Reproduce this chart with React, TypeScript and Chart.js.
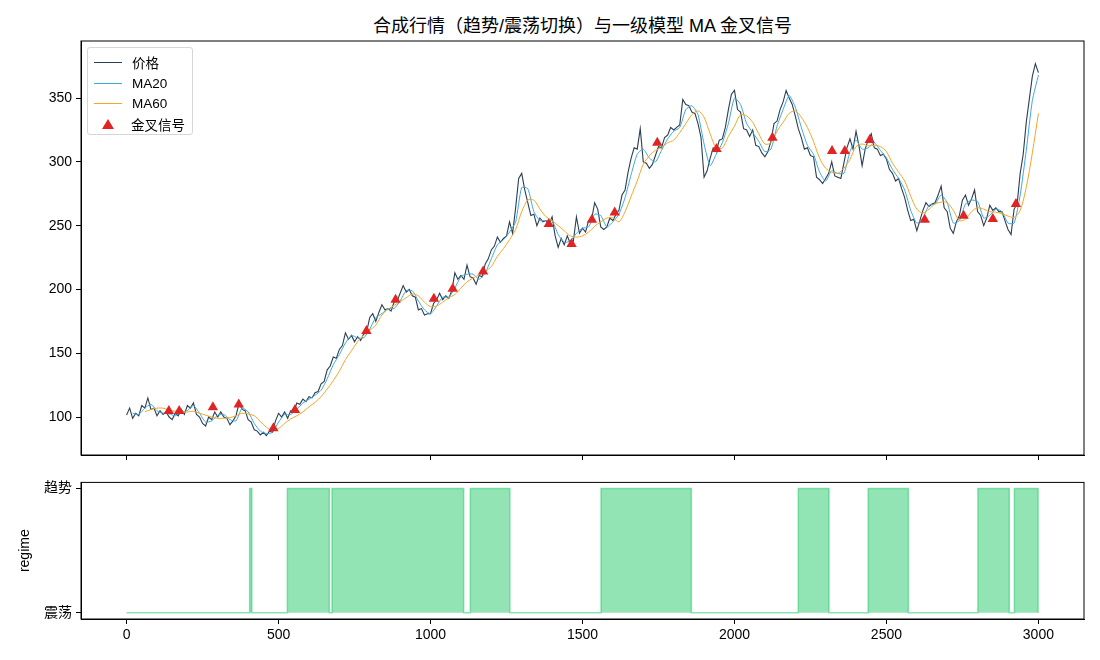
import { useEffect, useRef } from 'react'
import { Chart, registerables } from 'chart.js'

Chart.register(...registerables)

const FONT = "'Liberation Sans', 'Noto Sans CJK SC', sans-serif"

// price, one value every 10 steps (t = 0, 10, ..., 3000)
const PRICE = [
  101.5, 107, 99, 103, 101, 109, 107, 115, 106, 107,
  101, 105, 102, 104, 100, 98, 103, 101, 106, 102,
  109, 107, 111, 102, 100, 95, 93, 100, 98, 104,
  100, 104, 100, 99, 94, 97, 101, 111, 106, 105,
  98, 96, 90, 89, 86, 88, 85.5, 89, 88, 97,
  103, 100, 104, 99, 105, 104, 111, 110, 114, 112,
  116, 115, 119, 120, 126, 128, 137, 140, 147, 146,
  153, 156, 166, 161, 164, 159, 163, 160, 165, 167,
  178, 181, 175, 182, 188, 184, 185, 183, 190, 191,
  197, 203, 198, 200, 195, 194, 184, 185, 180, 181,
  181, 189, 192, 197, 192, 195, 193, 199, 213, 208,
  211, 208, 219, 210, 209, 204, 211, 210, 220, 224,
  231, 234, 241, 237, 240, 242, 253, 244, 264, 287,
  291, 278, 268, 258, 259, 250, 256, 253, 254, 251,
  257, 242, 233, 240, 235, 242, 236, 238, 257, 244,
  248, 245, 254, 255, 268, 263, 249, 247, 249, 256,
  254, 259, 262, 274, 278, 292, 303, 311, 310, 326,
  300, 299, 295, 298, 305, 312, 311, 319, 321, 327,
  325, 327, 329, 349, 345, 344, 339, 338, 330, 319,
  288, 293, 303, 311, 308, 317, 318, 327, 341, 353,
  356, 341, 339, 326, 325, 320, 325, 313, 312, 307,
  304, 308, 316, 330, 332, 341, 347, 356, 350, 345,
  336, 326, 319, 310, 311, 305, 304, 288, 286, 283,
  287, 291, 300, 289, 288, 287, 299, 311, 318, 310,
  324, 312, 297, 310, 317, 322, 311, 310, 305, 306,
  302, 294, 291, 285, 287, 279, 272, 262, 254, 255,
  246, 254, 262, 268, 265, 267, 268, 274, 281, 264,
  261, 248, 244, 253, 258, 270, 274, 266, 271, 278,
  261, 258, 250, 256, 266, 262, 264, 261, 261, 254,
  247, 243, 263, 267, 291, 306, 331, 349, 367, 377,
  370,
]

// MA20, every 20 steps starting at t = 20
const MA20 = [
  103, 102, 107, 110, 105, 103, 102.5, 101, 104, 105,
  109, 103, 96, 97, 101.5, 102, 98, 97, 107, 104,
  95, 89, 87, 88, 96, 102, 102, 106, 111, 114,
  117, 121, 130, 141, 149, 158, 164, 162, 162, 169,
  178, 181, 185, 185, 191, 199, 199, 191, 184, 181,
  187, 194, 194, 201, 210, 212, 212, 208, 213, 224,
  235, 239, 245, 253, 280, 279, 261, 254, 254, 254,
  243, 237, 238, 244, 248, 249, 259, 258, 249, 253,
  259, 272, 290, 306, 310, 303, 300, 309, 318, 324,
  327, 341, 344, 337, 314, 297, 306, 315, 330, 350,
  345, 330, 323, 316, 308, 310, 328, 341, 352, 343,
  327, 313, 306, 292, 285, 293, 291, 291, 308, 317,
  310, 311, 315, 309, 303, 294, 287, 278, 262, 252,
  256, 266, 267, 274, 268, 252, 254, 267, 270, 269,
  256, 258, 263, 261, 252, 252, 274, 309, 348, 368,
]

// MA60, every 20 steps starting at t = 60
const MA60 = [
  104, 106, 107, 107, 105.5, 104.5, 104, 104, 104.5, 103,
  101.5, 100, 99, 99, 99.5, 101, 103, 102.5, 101, 96.5,
  92, 89.5, 91, 95, 98.5, 101, 104, 108, 111.5, 116,
  122, 128.5, 136, 145, 152, 159, 164, 168, 172, 180,
  184.5, 187.5, 190.5, 193.5, 196.5, 195, 190, 186.5, 187, 190,
  193.5, 196, 201, 206, 209, 211.5, 214, 218, 226, 232,
  239, 247, 261, 270, 270, 263, 257, 254, 250, 246,
  242, 241, 242, 245, 249.5, 253, 256, 256, 253, 261,
  273, 285, 298, 305, 309, 311, 315, 317, 323, 330,
  337, 340, 335, 322, 311, 311, 320, 328, 337, 336,
  331, 322, 314, 315, 324, 331, 338, 340, 335, 327,
  316, 303, 295, 292, 291, 295, 302, 312, 314, 312.5,
  313, 312, 308, 299, 292, 285, 273, 263, 260, 263,
  267, 268.5, 268, 262, 254, 255, 261, 264, 263, 261,
  260.5, 259.5, 257.5, 256.5, 262, 280, 307, 338,
]

const SIGNAL_T = [139, 173, 284, 369, 483, 554, 789, 885, 1011, 1073, 1173, 1389, 1464, 1531, 1606, 1746, 1941, 2125, 2321, 2363, 2445, 2626, 2754, 2850, 2926]
const SIGNAL_V = [104.7, 104.7, 107.6, 109.9, 91.2, 105.5, 167.4, 192, 192.7, 200.5, 214, 251.3, 235.7, 254.7, 260.4, 315, 310, 319, 308.6, 308.6, 317.2, 254.7, 257.8, 255.2, 267]

// trend regime periods (regime = 1)
const REGIME_START = [405, 529, 676, 1131, 1561, 2210, 2440, 2801, 2921]
const REGIME_END = [412, 667, 1109, 1261, 1858, 2311, 2572, 2904, 2999]

const X_TICKS = [0, 500, 1000, 1500, 2000, 2500, 3000]
const Y_TICKS = [100, 150, 200, 250, 300, 350]

const C_PRICE = '#2c3e50'
const C_MA20 = '#3aa8e0'
const C_MA60 = '#f5a623'
const C_SIGNAL = '#e02424'

const frame = {
  id: 'frame',
  afterDraw(chart: any) {
    const { ctx, chartArea: a } = chart
    ctx.save()
    ctx.strokeStyle = '#000'
    ctx.lineWidth = 1
    ctx.strokeRect(a.left, a.top, a.right - a.left, a.bottom - a.top)
    ctx.restore()
  },
}

const axisGrid = { drawOnChartArea: false, tickLength: 5, color: '#000', lineWidth: 1 }
const tickFont = { family: FONT, size: 14 }

function PriceChart() {
  const ref = useRef<HTMLCanvasElement>(null)
  useEffect(() => {
    if (!ref.current) return
    const chart = new Chart(ref.current, {
      type: 'line',
      data: {
        datasets: [
          {
            type: 'scatter',
            label: '金叉信号',
            data: SIGNAL_T.map((t, i) => ({ x: t, y: SIGNAL_V[i] })),
            pointStyle: 'triangle',
            pointRadius: 6,
            backgroundColor: C_SIGNAL,
            borderColor: C_SIGNAL,
            borderWidth: 0,
          },
          {
            label: 'MA60',
            data: MA60.map((v, i) => ({ x: 60 + i * 20, y: v })),
            borderColor: C_MA60,
            borderWidth: 1,
            pointRadius: 0,
            tension: 0.3,
          },
          {
            label: 'MA20',
            data: MA20.map((v, i) => ({ x: 20 + i * 20, y: v })),
            borderColor: C_MA20,
            borderWidth: 1,
            pointRadius: 0,
            tension: 0.2,
          },
          {
            label: '价格',
            data: PRICE.map((v, i) => ({ x: i * 10, y: v })),
            borderColor: C_PRICE,
            borderWidth: 1.1,
            pointRadius: 0,
          },
        ],
      },
      options: {
        animation: false,
        responsive: true,
        maintainAspectRatio: false,
        layout: { padding: { left: 0, right: 16, top: 41, bottom: 0 } },
        plugins: { legend: { display: false }, tooltip: { enabled: false } },
        scales: {
          x: {
            type: 'linear',
            min: -150,
            max: 3150,
            afterBuildTicks: (s: any) => { s.ticks = X_TICKS.map(v => ({ value: v })) },
            afterFit: (s: any) => { s.height = 20 },
            grid: axisGrid,
            border: { color: '#000' },
            ticks: { display: false },
          },
          y: {
            type: 'linear',
            min: 70.25,
            max: 394.75,
            afterBuildTicks: (s: any) => { s.ticks = Y_TICKS.map(v => ({ value: v })) },
            afterFit: (s: any) => { s.width = 81 },
            grid: axisGrid,
            border: { color: '#000' },
            ticks: { color: '#000', font: tickFont, padding: 4 },
          },
        },
      },
      plugins: [frame],
    })
    return () => chart.destroy()
  }, [])
  return <canvas ref={ref} />
}

function RegimeChart() {
  const ref = useRef<HTMLCanvasElement>(null)
  useEffect(() => {
    if (!ref.current) return
    const pts: { x: number; y: number }[] = [{ x: 0, y: 0 }]
    REGIME_START.forEach((s, i) => {
      pts.push({ x: s, y: 0 }, { x: s, y: 1 }, { x: REGIME_END[i], y: 1 }, { x: REGIME_END[i], y: 0 })
    })
    pts.push({ x: 2999, y: 0 })
    const chart = new Chart(ref.current, {
      type: 'line',
      data: {
        datasets: [{
          label: 'regime',
          data: pts,
          borderColor: 'rgba(46,204,113,0.55)',
          backgroundColor: 'rgba(46,204,113,0.52)',
          borderWidth: 1.5,
          pointRadius: 0,
          fill: 'origin',
        }],
      },
      options: {
        animation: false,
        responsive: true,
        maintainAspectRatio: false,
        layout: { padding: { left: 0, right: 16, top: 9, bottom: 0 } },
        plugins: { legend: { display: false }, tooltip: { enabled: false } },
        scales: {
          x: {
            type: 'linear',
            min: -150,
            max: 3150,
            afterBuildTicks: (s: any) => { s.ticks = X_TICKS.map(v => ({ value: v })) },
            afterFit: (s: any) => { s.height = 41 },
            grid: axisGrid,
            border: { color: '#000' },
            ticks: { color: '#000', font: tickFont, padding: 3, maxRotation: 0, callback: (v: any) => String(v) },
          },
          y: {
            type: 'linear',
            min: -0.05,
            max: 1.05,
            afterBuildTicks: (s: any) => { s.ticks = [{ value: 0 }, { value: 1 }] },
            afterFit: (s: any) => { s.width = 81 },
            grid: axisGrid,
            border: { color: '#000' },
            ticks: {
              color: '#000',
              font: tickFont,
              padding: 4,
              callback: (v: any) => (v === 1 ? '趋势' : v === 0 ? '震荡' : ''),
            },
            title: { display: true, text: 'regime', color: '#000', font: tickFont, padding: { top: 17, bottom: 0 } },
          },
        },
      },
      plugins: [frame],
    })
    return () => chart.destroy()
  }, [])
  return <canvas ref={ref} />
}

const LEGEND = [
  { label: '价格', color: C_PRICE, kind: 'line' },
  { label: 'MA20', color: C_MA20, kind: 'line' },
  { label: 'MA60', color: C_MA60, kind: 'line' },
  { label: '金叉信号', color: C_SIGNAL, kind: 'marker' },
]

export default function App() {
  return (
    <div style={{ position: 'fixed', left: 0, top: 0, width: 1100, height: 660, background: '#fff', fontFamily: FONT }}>
      <div style={{ position: 'absolute', left: 81, width: 1003, top: 13, textAlign: 'center', fontSize: 18, lineHeight: '26px', color: '#000' }}>
        合成行情（趋势/震荡切换）与一级模型 MA 金叉信号
      </div>
      <div style={{ position: 'absolute', left: 0, top: 0, width: 1100, height: 475 }}>
        <PriceChart />
      </div>
      <div style={{ position: 'absolute', left: 0, top: 470, width: 1100, height: 190 }}>
        <RegimeChart />
      </div>
      <div style={{ position: 'absolute', left: 87, top: 47, width: 104, height: 86, border: '1px solid #d6d6d6', borderRadius: 3, background: 'rgba(255,255,255,0.8)', fontSize: 13.5, color: '#000' }}>
        {LEGEND.map((e, i) => (
          <div key={e.label} style={{ position: 'absolute', left: 0, top: Math.round(4 + i * 20.6), height: 20, width: 104, display: 'flex', alignItems: 'center' }}>
            {e.kind === 'line' ? (
              <div style={{ marginLeft: 6, width: 28, height: 1, background: e.color }} />
            ) : (
              <div style={{ marginLeft: 14, marginRight: 7, width: 0, height: 0, borderLeft: '6px solid transparent', borderRight: '6px solid transparent', borderBottom: `10px solid ${e.color}` }} />
            )}
            <span style={{ marginLeft: 10 }}>{e.label}</span>
          </div>
        ))}
      </div>
    </div>
  )
}
